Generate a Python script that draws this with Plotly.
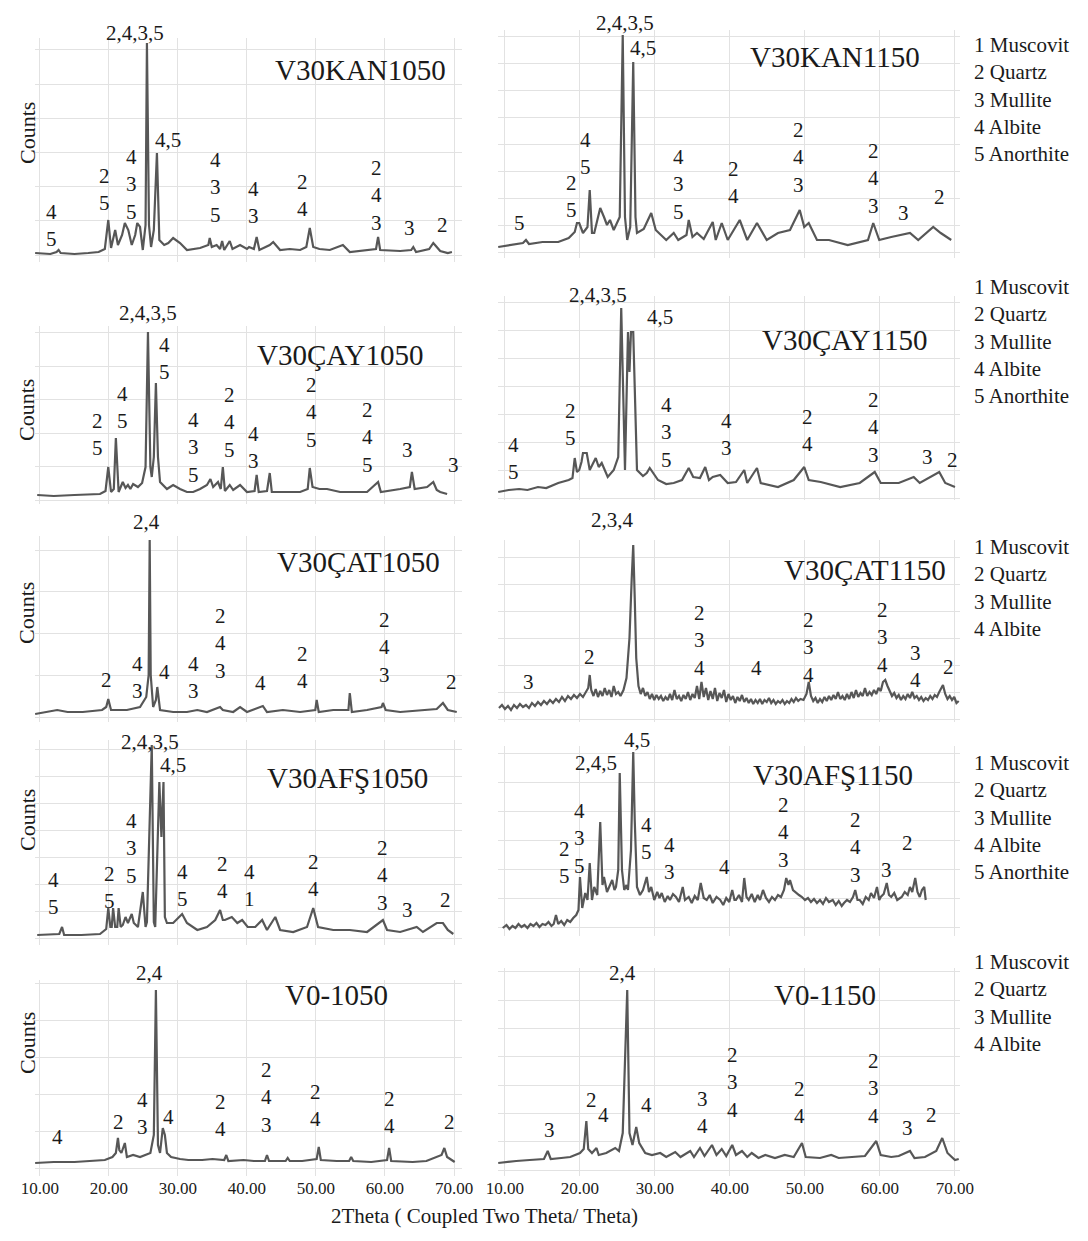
import plotly.graph_objects as go

W, H = 1088, 1241          # reference picture size (pixel coordinates below refer to it)
OFF = 8                    # default page body margin of the written html
FW, FH = W - 2 * OFF, H - 2 * OFF
SERIF = "Liberation Serif, Times New Roman, serif"
LINE = "#575757"
GRID = "#e2e2e2"
TXT = "#1a1a1a"

# ---------------- data: (2theta, counts) ----------------
two_theta_ticks = [10, 20, 30, 40, 50, 60, 70]
legend5 = ["1 Muscovit", "2 Quartz", "3 Mullite", "4 Albite", "5 Anorthite"]
legend4 = ["1 Muscovit", "2 Quartz", "3 Mullite", "4 Albite"]

kan1050 = [(9.3, 2), (11.5, 1), (12.4, 3), (12.7, 5), (13.0, 2), (15.0, 1), (17.0, 2), (18.5, 3), (19.4, 6),
           (19.9, 35), (20.3, 7), (20.9, 25), (21.3, 10), (21.9, 20), (22.3, 32), (22.8, 25), (23.3, 10),
           (23.8, 20), (24.1, 32), (24.5, 28), (24.9, 5), (25.3, 30), (25.5, 212), (25.8, 30), (26.1, 8),
           (26.5, 25), (26.95, 102), (27.3, 15), (28.0, 10), (28.6, 12), (29.3, 17), (30.3, 12), (31.3, 5),
           (33.2, 7), (34.4, 10), (34.6, 17), (34.9, 8), (35.6, 10), (36.1, 6), (36.4, 14), (36.7, 5),
           (37.5, 14), (37.9, 6), (39.0, 10), (40.0, 6), (40.3, 8), (41.0, 6), (41.4, 18), (41.8, 5),
           (43.3, 10), (43.8, 13), (44.8, 5), (46.2, 6), (47.7, 5), (48.6, 8), (49.1, 27), (49.6, 8),
           (50.5, 6), (52.0, 5), (53.9, 10), (54.9, 3), (57.4, 5), (58.7, 6), (59.0, 18), (59.3, 5),
           (62.2, 4), (63.8, 5), (64.1, 8), (64.5, 3), (66.4, 6), (67.0, 12), (67.5, 8), (68.0, 4),
           (69.1, 2), (69.7, 3)]
kan1150 = [(9.1, 0), (11.0, 2), (12.4, 4), (12.8, 7), (13.2, 3), (15.0, 5), (17.1, 5), (18.5, 9), (19.3, 15),
           (19.6, 24), (19.9, 24), (20.4, 14), (21.0, 20), (21.3, 57), (21.6, 14), (21.9, 14), (22.4, 30),
           (22.7, 39), (23.2, 30), (23.6, 22), (24.0, 27), (24.5, 17), (25.3, 30), (25.7, 212), (26.0, 30),
           (26.3, 7), (26.7, 20), (27.1, 185), (27.4, 30), (27.6, 14), (28.5, 18), (29.5, 34), (30.1, 17),
           (31.5, 7), (32.5, 14), (33.1, 7), (34.2, 12), (34.5, 27), (35.0, 10), (35.6, 14), (36.5, 8),
           (37.7, 25), (38.1, 7), (38.9, 24), (39.7, 7), (41.3, 27), (42.3, 7), (43.6, 24), (44.9, 7),
           (46.4, 14), (48.0, 17), (49.3, 37), (49.9, 20), (50.5, 24), (51.6, 7), (53.2, 7), (55.7, 2),
           (58.4, 7), (59.1, 24), (59.9, 7), (61.5, 10), (64.0, 14), (65.1, 7), (67.1, 20), (68.1, 14),
           (69.5, 7)]
cay1050 = [(9.6, 2), (12.0, 1), (15.0, 2), (18.7, 3), (19.5, 6), (19.9, 30), (20.3, 5), (20.7, 8), (21.0, 59),
           (21.4, 5), (22.0, 15), (22.4, 9), (22.75, 12), (23.1, 8), (23.5, 13), (24.2, 10), (24.8, 14),
           (25.3, 30), (25.65, 165), (26.0, 30), (26.2, 20), (26.5, 40), (26.8, 114), (27.1, 40), (27.4, 15),
           (28.4, 8), (29.3, 12), (30.3, 8), (31.3, 5), (32.2, 5), (33.2, 8), (34.2, 12), (34.7, 18),
           (35.1, 10), (35.8, 15), (36.2, 8), (36.5, 30), (36.8, 6), (37.5, 12), (38.0, 7), (39.0, 12),
           (40.0, 5), (41.1, 6), (41.4, 22), (41.7, 5), (42.9, 6), (43.3, 24), (43.6, 5), (45.2, 5),
           (47.7, 5), (48.8, 8), (49.1, 29), (49.5, 10), (50.5, 8), (51.6, 8), (53.5, 5), (55.4, 5),
           (57.4, 5), (59.0, 15), (59.4, 5), (62.2, 8), (63.6, 10), (63.9, 25), (64.3, 8), (66.1, 10),
           (67.0, 15), (67.5, 7), (68.0, 5), (69.0, 3)]
cay1150 = [(9.1, 0), (10.5, 2), (11.9, 3), (13.0, 2), (14.4, 5), (15.5, 4), (17.1, 9), (18.5, 12), (19.0, 14),
           (19.3, 34), (19.6, 20), (19.9, 22), (20.2, 30), (20.4, 39), (20.9, 39), (21.3, 22), (21.7, 28),
           (22.1, 34), (22.5, 25), (22.9, 29), (23.7, 15), (24.5, 22), (25.1, 35), (25.5, 184), (26.0, 22),
           (26.4, 160), (26.6, 120), (26.8, 160), (27.1, 160), (27.6, 22), (28.4, 16), (28.9, 19), (29.3, 24),
           (30.4, 12), (31.5, 8), (32.5, 9), (33.6, 12), (34.5, 24), (35.1, 15), (36.0, 14), (36.7, 25),
           (37.2, 12), (37.7, 15), (38.7, 17), (39.7, 9), (40.8, 10), (41.9, 22), (42.3, 9), (43.6, 24),
           (44.1, 9), (46.4, 5), (48.5, 12), (49.9, 25), (50.5, 12), (52.1, 10), (54.7, 5), (57.3, 9),
           (59.3, 20), (60.1, 9), (62.5, 9), (64.5, 15), (65.3, 9), (67.9, 20), (68.7, 9), (70.0, 5)]
cat1050 = [(9.3, 1), (12.5, 5), (14.0, 3), (16.2, 3), (19.0, 5), (19.6, 8), (19.9, 16), (20.3, 5), (22.6, 5),
           (24.5, 8), (25.4, 18), (25.75, 40), (25.9, 175), (26.05, 40), (26.4, 8), (26.8, 15), (27.0, 28),
           (27.2, 15), (27.4, 5), (29.3, 3), (31.3, 3), (32.8, 5), (34.2, 3), (36.1, 8), (36.5, 5), (38.0, 3),
           (39.0, 8), (40.0, 3), (42.3, 9), (42.9, 3), (45.2, 5), (47.7, 3), (49.9, 5), (50.1, 15), (50.4, 3),
           (52.5, 5), (54.7, 5), (54.9, 22), (55.2, 3), (57.4, 5), (59.5, 8), (59.7, 12), (60.1, 5), (62.2, 3),
           (65.1, 5), (67.5, 6), (68.4, 12), (69.1, 5), (70.4, 3)]
cat1150 = [(9.2, 0), (9.6, 3), (10.0, -1), (10.4, 2), (10.8, -2), (11.2, 3), (11.6, 0), (12.0, 4), (12.4, 1),
           (12.8, 3), (13.2, 0), (13.6, 5), (14.0, 2), (14.4, 6), (14.8, 3), (15.2, 7), (15.6, 4), (16.0, 8),
           (16.4, 5), (16.8, 9), (17.2, 6), (17.6, 11), (18.0, 7), (18.4, 12), (18.8, 9), (19.2, 13),
           (19.6, 10), (20.0, 14), (20.4, 11), (20.8, 16), (21.1, 20), (21.3, 33), (21.5, 18), (21.8, 12),
           (22.1, 19), (22.4, 11), (22.7, 17), (23.0, 12), (23.3, 20), (23.6, 13), (23.9, 18), (24.2, 11),
           (24.5, 22), (24.8, 14), (25.1, 16), (25.4, 12), (25.8, 18), (26.2, 30), (26.6, 70), (26.9, 130),
           (27.1, 163), (27.3, 110), (27.5, 50), (27.8, 22), (28.1, 14), (28.4, 20), (28.7, 12), (29.0, 16),
           (29.3, 9), (29.6, 14), (29.9, 8), (30.2, 13), (30.5, 9), (30.8, 12), (31.1, 7), (31.4, 11),
           (31.7, 8), (32.0, 14), (32.3, 8), (32.6, 18), (32.9, 9), (33.2, 12), (33.5, 7), (33.8, 13),
           (34.1, 9), (34.4, 16), (34.7, 8), (35.0, 14), (35.3, 10), (35.6, 22), (35.9, 9), (36.2, 26),
           (36.5, 11), (36.8, 20), (37.1, 8), (37.4, 17), (37.7, 9), (38.0, 20), (38.3, 7), (38.6, 15),
           (38.9, 10), (39.2, 18), (39.5, 6), (39.8, 14), (40.1, 8), (40.4, 12), (40.7, 5), (41.0, 11),
           (41.3, 7), (41.6, 13), (41.9, 6), (42.2, 10), (42.5, 5), (42.8, 9), (43.1, 4), (43.4, 8), (43.7, 5),
           (44.0, 9), (44.3, 4), (44.6, 8), (44.9, 6), (45.2, 10), (45.5, 5), (45.8, 8), (46.1, 4), (46.4, 7),
           (46.7, 5), (47.0, 8), (47.3, 4), (47.6, 7), (47.9, 5), (48.2, 9), (48.5, 6), (48.8, 10), (49.1, 7),
           (49.4, 9), (49.8, 8), (50.2, 14), (50.5, 26), (50.8, 12), (51.1, 7), (51.4, 10), (51.7, 5),
           (52.0, 9), (52.3, 6), (52.6, 11), (52.9, 7), (53.2, 12), (53.5, 8), (53.8, 13), (54.1, 9),
           (54.4, 16), (54.7, 9), (55.0, 12), (55.3, 8), (55.6, 14), (55.9, 9), (56.2, 16), (56.5, 10),
           (56.8, 18), (57.1, 11), (57.4, 15), (57.7, 12), (58.0, 20), (58.3, 12), (58.6, 16), (58.9, 13),
           (59.2, 18), (59.5, 14), (59.8, 20), (60.1, 17), (60.4, 26), (60.7, 28), (61.0, 22), (61.3, 16),
           (61.6, 12), (61.9, 15), (62.2, 10), (62.5, 13), (62.8, 8), (63.1, 12), (63.4, 9), (63.7, 14),
           (64.0, 10), (64.3, 16), (64.6, 10), (64.9, 12), (65.2, 8), (65.5, 11), (65.8, 7), (66.1, 10),
           (66.4, 8), (66.7, 12), (67.0, 9), (67.3, 13), (67.6, 11), (67.9, 16), (68.2, 20), (68.4, 23),
           (68.7, 14), (69.0, 9), (69.3, 12), (69.6, 8), (69.9, 11), (70.2, 5), (70.5, 7)]
afs1050 = [(9.6, 2), (12.8, 3), (13.2, 10), (13.5, 2), (16.0, 2), (18.7, 3), (19.6, 8), (19.9, 29), (20.2, 10),
           (20.4, 10), (20.6, 29), (20.9, 10), (21.2, 10), (21.4, 29), (21.7, 10), (22.0, 12), (22.4, 20),
           (22.75, 14), (23.3, 23), (23.6, 14), (24.2, 10), (24.9, 45), (25.3, 10), (25.5, 15), (26.2, 192),
           (26.5, 15), (26.7, 10), (27.3, 155), (27.6, 100), (27.9, 155), (28.1, 20), (28.4, 14), (29.3, 14),
           (30.6, 23), (31.3, 14), (32.8, 7), (34.2, 10), (35.4, 17), (36.1, 27), (36.5, 17), (36.8, 17),
           (37.8, 20), (38.6, 14), (39.3, 17), (40.1, 10), (41.2, 10), (42.2, 17), (42.9, 7), (44.1, 20),
           (44.8, 7), (46.7, 5), (48.7, 10), (49.6, 29), (50.3, 10), (52.5, 7), (54.9, 7), (57.4, 5),
           (59.7, 17), (60.3, 7), (62.2, 5), (64.6, 10), (65.5, 5), (67.5, 14), (68.4, 14), (69.1, 7),
           (69.9, 3)]
afs1150 = [(9.7, 2), (10.2, 5), (10.6, 1), (11.0, 4), (11.4, 2), (11.8, 6), (12.2, 3), (12.6, 5), (13.0, 2),
           (13.4, 6), (13.8, 4), (14.2, 7), (14.6, 3), (15.0, 6), (15.4, 5), (15.8, 8), (16.2, 4), (16.5, 6),
           (16.8, 15), (17.1, 6), (17.5, 9), (17.9, 5), (18.3, 10), (18.7, 8), (19.1, 12), (19.5, 15),
           (19.8, 20), (20.0, 53), (20.3, 22), (20.7, 37), (21.0, 30), (21.3, 67), (21.6, 30), (21.9, 43),
           (22.3, 35), (22.7, 108), (23.0, 45), (23.2, 53), (23.6, 38), (24.0, 45), (24.3, 50), (24.6, 40),
           (24.8, 43), (25.1, 60), (25.3, 157), (25.6, 60), (25.9, 40), (26.2, 45), (26.4, 40), (26.8, 80),
           (27.1, 178), (27.3, 110), (27.6, 43), (28.0, 35), (28.4, 40), (28.9, 53), (29.2, 38), (29.5, 43),
           (29.9, 30), (30.3, 38), (30.6, 32), (30.9, 37), (31.3, 28), (31.7, 34), (32.0, 30), (32.4, 36),
           (32.8, 33), (33.2, 28), (33.7, 43), (34.0, 30), (34.5, 33), (34.9, 27), (35.3, 34), (35.7, 30),
           (36.1, 47), (36.5, 32), (36.9, 30), (37.3, 35), (37.7, 27), (38.2, 33), (38.7, 30), (39.1, 25),
           (39.5, 32), (39.9, 28), (40.3, 40), (40.6, 30), (40.8, 30), (41.2, 35), (41.6, 28), (41.9, 52),
           (42.2, 33), (42.5, 30), (42.9, 36), (43.3, 28), (43.7, 35), (44.0, 30), (44.4, 40), (44.8, 32),
           (45.2, 28), (45.6, 33), (46.0, 30), (46.4, 35), (46.8, 33), (47.2, 40), (47.5, 52), (47.8, 45),
           (48.0, 50), (48.4, 40), (48.8, 37), (49.2, 35), (49.6, 33), (50.0, 30), (50.4, 32), (50.8, 28),
           (51.2, 31), (51.6, 27), (52.0, 30), (52.4, 26), (52.8, 32), (53.2, 28), (53.7, 30), (54.1, 25),
           (54.5, 29), (54.9, 24), (55.2, 27), (55.6, 30), (56.0, 28), (56.4, 33), (56.7, 40), (57.0, 30),
           (57.3, 30), (57.7, 26), (58.1, 33), (58.5, 30), (58.8, 37), (59.2, 32), (59.6, 43), (59.9, 30),
           (60.1, 33), (60.5, 36), (60.9, 47), (61.2, 35), (61.5, 33), (61.9, 37), (62.3, 30), (62.9, 33),
           (63.3, 38), (63.7, 35), (64.0, 43), (64.3, 38), (64.7, 52), (65.0, 38), (65.3, 33), (65.6, 40),
           (65.9, 43), (66.1, 30)]
v0_1050 = [(9.3, 2), (12.0, 3), (15.0, 3), (18.0, 4), (19.4, 5), (20.5, 8), (21.0, 12), (21.3, 27), (21.5, 15),
           (21.8, 12), (22.3, 22), (22.6, 8), (23.5, 10), (24.5, 8), (25.4, 10), (26.0, 12), (26.5, 30),
           (26.8, 175), (27.1, 20), (27.4, 12), (27.8, 37), (28.1, 30), (28.4, 12), (29.0, 8), (30.3, 6),
           (31.5, 5), (33.5, 5), (35.0, 6), (36.7, 5), (37.0, 10), (37.3, 4), (39.5, 5), (41.0, 4), (42.6, 4),
           (42.9, 10), (43.2, 4), (45.6, 4), (45.9, 7), (46.2, 4), (48.0, 4), (50.1, 6), (50.4, 18), (50.7, 5),
           (53.0, 4), (54.8, 4), (55.1, 8), (55.4, 4), (58.0, 3), (60.3, 5), (60.6, 17), (60.9, 4), (64.0, 3),
           (66.0, 4), (68.2, 10), (68.6, 17), (69.0, 8), (70.1, 3)]
v0_1150 = [(9.1, 0), (10.0, 1), (11.5, 2), (13.3, 3), (15.2, 4), (15.7, 12), (16.1, 4), (17.5, 5), (18.7, 6),
           (20.0, 10), (20.5, 14), (20.85, 42), (21.1, 14), (21.6, 10), (22.2, 15), (22.5, 8), (23.5, 10),
           (24.7, 15), (25.2, 12), (25.7, 30), (26.3, 173), (26.6, 30), (27.0, 18), (27.5, 36), (27.9, 20),
           (28.7, 10), (29.6, 8), (30.7, 10), (31.5, 6), (32.7, 11), (33.4, 6), (34.7, 12), (35.2, 6),
           (36.0, 15), (36.6, 7), (37.6, 18), (38.2, 8), (38.9, 14), (39.5, 7), (40.3, 18), (40.8, 8),
           (41.6, 12), (42.3, 6), (42.9, 10), (43.8, 5), (44.7, 8), (46.0, 5), (47.3, 8), (48.5, 6),
           (49.6, 20), (50.1, 6), (52.0, 5), (53.5, 8), (54.5, 5), (56.5, 6), (58.0, 7), (59.5, 22),
           (60.1, 8), (61.5, 6), (62.5, 7), (64.0, 12), (64.6, 5), (66.0, 6), (67.5, 12), (68.3, 25),
           (69.0, 10), (70.0, 3), (70.5, 4)]

# peak labels: (2theta, counts, phases)
kan1050_labels = [(11.7, 30, "4<br>5"), (19.4, 66, "2<br>5"), (23.3, 70, "4<br>3<br>5"), (23.8, 222, "2,4,3,5"),
                  (28.6, 115, "4,5"), (35.5, 67, "4<br>3<br>5"), (40.9, 53, "4<br>3"), (48.1, 60, "2<br>4"),
                  (58.7, 60, "2<br>4<br>3"), (63.6, 27, "3"), (68.4, 30, "2")]
kan1150_labels = [(11.9, 24, "5"), (18.9, 50, "2<br>5"), (20.7, 93, "4<br>5"), (26.0, 224, "2,4,3,5"),
                  (28.4, 199, "4,5"), (33.1, 62, "4<br>3<br>5"), (40.5, 65, "2<br>4"), (49.2, 90, "2<br>4<br>3"),
                  (59.1, 69, "2<br>4<br>3"), (63.2, 34, "3"), (67.9, 50, "2")]
cay1050_labels = [(18.3, 62, "2<br>5"), (22.0, 89, "4<br>5"), (25.65, 184, "2,4,3,5"), (28.1, 139, "4<br>5"),
                  (32.2, 50, "4<br>3<br>5"), (37.5, 75, "2<br>4<br>5"), (41.0, 50, "4<br>3"),
                  (49.4, 84, "2<br>4<br>5"), (57.5, 60, "2<br>4<br>5"), (63.2, 47, "3"), (69.9, 32, "3")]
cay1150_labels = [(11.1, 33, "4<br>5"), (18.8, 67, "2<br>5"), (22.4, 197, "2,4,3,5"), (30.7, 175, "4,5"),
                  (31.5, 59, "4<br>3<br>5"), (39.5, 57, "4<br>3"), (50.4, 62, "2<br>4"),
                  (59.1, 65, "2<br>4<br>3"), (66.4, 35, "3"), (69.7, 32, "2")]
cat1050_labels = [(19.6, 35, "2"), (24.2, 38, "4<br>3"), (25.5, 193, "2,4"), (28.1, 43, "4"),
                  (32.2, 38, "4<br>3"), (36.1, 72, "2<br>4<br>3"), (41.9, 32, "4"), (48.0, 48, "2<br>4"),
                  (60.0, 68, "2<br>4<br>3"), (69.7, 33, "2")]
cat1150_labels = [(13.1, 26, "3"), (21.3, 51, "2"), (24.3, 188, "2,3,4"), (35.9, 68, "2<br>3<br>4"),
                  (43.6, 40, "4"), (50.5, 61, "2<br>3<br>4"), (60.4, 71, "2<br>3<br>4"), (64.8, 42, "3<br>4"),
                  (69.2, 41, "2")]
afs1050_labels = [(11.9, 44, "4<br>5"), (20.1, 50, "2<br>5"), (23.2, 89, "4<br>3<br>5"), (25.9, 195, "2,4,3,5"),
                  (29.3, 172, "4,5"), (30.6, 52, "4<br>5"), (36.4, 60, "2<br>4"), (40.3, 52, "4<br>1"),
                  (49.6, 62, "2<br>4"), (59.7, 62, "2<br>4<br>3"), (63.3, 27, "3"), (68.7, 37, "2")]
afs1150_labels = [(17.9, 68, "2<br>5"), (20.0, 92, "4<br>3<br>5"), (22.1, 167, "2,4,5"), (27.6, 190, "4,5"),
                  (28.9, 92, "4<br>5"), (32.0, 72, "4<br>3"), (39.3, 63, "4"), (47.2, 98, "2<br>4<br>3"),
                  (56.7, 83, "2<br>4<br>3"), (60.9, 60, "3"), (63.7, 87, "2")]
v0_1050_labels = [(12.6, 28, "4"), (21.4, 43, "2"), (24.8, 52, "4<br>3"), (25.9, 192, "2,4"), (28.6, 48, "4"),
                  (36.1, 50, "2<br>4"), (42.9, 68, "2<br>4<br>3"), (50.0, 60, "2<br>4"), (60.6, 53, "2<br>4"),
                  (69.4, 43, "2")]
v0_1150_labels = [(16.0, 33, "3"), (21.6, 63, "2"), (23.2, 48, "4"), (25.7, 190, "2,4"), (28.9, 58, "4"),
                  (36.4, 51, "3<br>4"), (40.3, 81, "2<br>3<br>4"), (49.3, 61, "2<br>4"),
                  (59.1, 75, "2<br>3<br>4"), (63.7, 35, "3"), (66.9, 48, "2")]

# ---------------- layout geometry (reference pixels) ----------------
COLS = [dict(d0=35, d1=462, rng=[9.28, 71.16]), dict(d0=498, d1=960, rng=[9.07, 70.67])]

panels = [
    dict(name="V30KAN1050", col=0, row=0, pts=kan1050, labels=kan1050_labels, tpos=(56.4, 185),
         base=255, top=38, bottom=262, tick0=0, dtick=34.2, legend=None, counts=133),
    dict(name="V30KAN1150", col=1, row=0, pts=kan1150, labels=kan1150_labels, tpos=(54.0, 190),
         base=247, top=30, bottom=258, tick0=-5, dtick=27, legend=(legend5, 99), counts=None),
    dict(name="V30ÇAY1050", col=0, row=1, pts=cay1050, labels=cay1050_labels, tpos=(53.5, 142),
         base=497, top=326, bottom=504, tick0=-3, dtick=33.5, legend=None, counts=410),
    dict(name="V30ÇAY1150", col=1, row=1, pts=cay1150, labels=cay1150_labels, tpos=(55.3, 152),
         base=492, top=296, bottom=500, tick0=-6, dtick=28, legend=(legend5, 342), counts=None),
    dict(name="V30ÇAT1050", col=0, row=2, pts=cat1050, labels=cat1050_labels, tpos=(56.1, 153),
         base=715, top=536, bottom=722, tick0=-2, dtick=41.7, legend=None, counts=613),
    dict(name="V30ÇAT1150", col=1, row=2, pts=cat1150, labels=cat1150_labels, tpos=(58.0, 138),
         base=708, top=540, bottom=722, tick0=-11, dtick=27, legend=(legend4, 588), counts=None),
    dict(name="V30AFŞ1050", col=0, row=3, pts=afs1050, labels=afs1050_labels, tpos=(54.5, 159),
         base=937, top=740, bottom=945, tick0=-1, dtick=26.9, legend=None, counts=820),
    dict(name="V30AFŞ1150", col=1, row=3, pts=afs1150, labels=afs1150_labels, tpos=(53.7, 155),
         base=930, top=746, bottom=936, tick0=3, dtick=29, legend=(legend5, 817), counts=None),
    dict(name="V0-1050", col=0, row=4, pts=v0_1050, labels=v0_1050_labels, tpos=(53.0, 170),
         base=1165, top=980, bottom=1176, tick0=-3, dtick=37, legend=None, counts=1043),
    dict(name="V0-1150", col=1, row=4, pts=v0_1150, labels=v0_1150_labels, tpos=(52.7, 168),
         base=1163, top=968, bottom=1176, tick0=-7, dtick=28.3, legend=(legend4, 1003), counts=None),
]


def fx(px):
    return (px - OFF) / FW


def fy(px):
    return 1 - (px - OFF) / FH


fig = go.Figure()
layout_axes = {}
annotations = []

for i, p in enumerate(panels, start=1):
    sfx = "" if i == 1 else str(i)
    xr, yr = "x" + sfx, "y" + sfx
    col = COLS[p["col"]]
    xs = [a for a, b in p["pts"]]
    ys = [b for a, b in p["pts"]]
    fig.add_trace(go.Scatter(x=xs, y=ys, mode="lines", line=dict(color=LINE, width=2.2),
                             xaxis=xr, yaxis=yr, showlegend=False, hoverinfo="skip"))
    base = p["base"]
    layout_axes["xaxis" + sfx] = dict(
        domain=[fx(col["d0"]), fx(col["d1"])], range=col["rng"], anchor=yr,
        tickmode="array", tickvals=two_theta_ticks, tickformat=".2f",
        showticklabels=(p["row"] == 4), ticks="", showgrid=True, gridcolor=GRID, gridwidth=1,
        zeroline=False, showline=False, automargin=False,
        tickfont=dict(family=SERIF, size=17, color=TXT))
    layout_axes["yaxis" + sfx] = dict(
        domain=[fy(p["bottom"]), fy(p["top"])], range=[base - p["bottom"], base - p["top"]],
        anchor=xr, tickmode="linear", tick0=p["tick0"], dtick=p["dtick"],
        showticklabels=False, ticks="", showgrid=True, gridcolor=GRID, gridwidth=1,
        zeroline=False, showline=False, automargin=False)
    # peak labels
    for (xv, hv, txt) in p["labels"]:
        annotations.append(dict(x=xv, y=fy(base - hv), xref=xr, yref="paper", text=txt,
                                showarrow=False, xanchor="center", yanchor="middle",
                                font=dict(family=SERIF, size=21, color=TXT)))
    # sample name
    tx, th = p["tpos"]
    annotations.append(dict(x=tx, y=fy(base - th), xref=xr, yref="paper", text=p["name"],
                            showarrow=False, xanchor="center", yanchor="middle",
                            font=dict(family=SERIF, size=29, color=TXT)))
    if p["legend"]:
        items, cy = p["legend"]
        annotations.append(dict(x=fx(972), y=fy(cy), xref="paper", yref="paper",
                                text="<br>".join(items), showarrow=False, align="left",
                                xanchor="left", yanchor="middle",
                                font=dict(family=SERIF, size=21, color=TXT)))
    if p["counts"]:
        annotations.append(dict(x=fx(27), y=fy(p["counts"]), xref="paper", yref="paper",
                                text="Counts", textangle=-90, showarrow=False,
                                xanchor="center", yanchor="middle",
                                font=dict(family=SERIF, size=22, color=TXT)))

annotations.append(dict(x=fx(484), y=fy(1216), xref="paper", yref="paper",
                        text="2Theta ( Coupled Two Theta/ Theta)", showarrow=False,
                        xanchor="center", yanchor="middle",
                        font=dict(family=SERIF, size=21, color=TXT)))

fig.update_layout(width=FW, height=FH, margin=dict(l=0, r=0, t=0, b=0),
                  paper_bgcolor="white", plot_bgcolor="white",
                  annotations=annotations, **layout_axes)
fig.write_html("out.html")
